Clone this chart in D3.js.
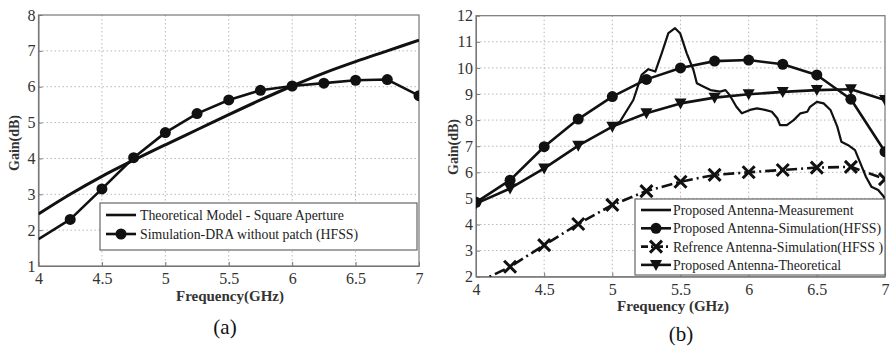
<!DOCTYPE html>
<html>
<head>
<meta charset="utf-8">
<script src="https://cdn.jsdelivr.net/npm/d3@7"></script>
<style>
  body { margin: 0; background: #fff; }
  svg { display: block; font-family: "Liberation Serif", "Times New Roman", serif; }
  .grid line { stroke: #b8b8b8; stroke-dasharray: 1.5,2.5; }
  .axis path, .axis line { stroke: #777; }
</style>
</head>
<body>
<svg id="chart" width="893" height="349"></svg>
<script>
// ---- panel (a) data ----
const freqA = [4, 4.25, 4.5, 4.75, 5, 5.25, 5.5, 5.75, 6, 6.25, 6.5, 6.75, 7];
const theoryA = [2.45, 3.0, 3.5, 3.95, 4.38, 4.8, 5.22, 5.63, 6.02, 6.38, 6.7, 7.0, 7.3];
const simDraA = [1.75, 2.3, 3.15, 4.02, 4.72, 5.25, 5.63, 5.9, 6.02, 6.1, 6.18, 6.2, 5.75];

// ---- panel (b) data ----
const freqB = [4, 4.25, 4.5, 4.75, 5, 5.25, 5.5, 5.75, 6, 6.25, 6.5, 6.75, 7];
const simPropB = [4.85, 5.7, 6.98, 8.04, 8.9, 9.56, 10.0, 10.26, 10.3, 10.14, 9.73, 8.8, 6.79];
const refSimB = [1.75, 2.38, 3.21, 4.02, 4.75, 5.28, 5.64, 5.9, 6.0, 6.09, 6.18, 6.21, 5.74];
const theoryB = [4.8, 5.38, 6.15, 7.02, 7.75, 8.26, 8.64, 8.86, 8.99, 9.08, 9.15, 9.18, 8.77];
const measFreq = [5.0, 5.056, 5.154, 5.215, 5.264, 5.315, 5.362, 5.411, 5.46, 5.497, 5.546, 5.595,
  5.62, 5.67, 5.72, 5.79, 5.83, 5.86, 5.91, 5.95, 6.01, 6.06, 6.12, 6.17, 6.21, 6.23, 6.28, 6.33,
  6.38, 6.43, 6.45, 6.5, 6.55, 6.6, 6.65, 6.68, 6.73, 6.78, 6.82, 6.86, 6.9, 6.95, 6.99, 7.0];
const measGain = [7.8, 7.94, 8.77, 9.73, 9.95, 9.86, 10.56, 11.33, 11.52, 11.33, 10.56, 9.92,
  9.41, 9.28, 9.15, 9.09, 9.15, 8.96, 8.51, 8.26, 8.39, 8.45, 8.39, 8.32, 8.07, 7.81, 7.81, 8.0,
  8.26, 8.32, 8.51, 8.7, 8.64, 8.39, 7.75, 7.17, 7.04, 6.85, 6.34, 5.83, 5.45, 5.32, 5.07, 4.95];

const xTicks = [4, 4.5, 5, 5.5, 6, 6.5, 7];
const yTicksA = [1, 2, 3, 4, 5, 6, 7, 8];
const yTicksB = [2, 3, 4, 5, 6, 7, 8, 9, 10, 11, 12];

const serif = '"Liberation Serif", "Times New Roman", serif';
const svg = d3.select("#chart");

function styleAxis(sel) {
  sel.attr("font-family", null).attr("font-size", null);
  sel.selectAll("text")
    .style("font-family", serif).style("font-size", "16px").style("fill", "#333");
}

function drawFrame(box, yDomain, yTicks, id) {
  let x = d3.scaleLinear().domain([4, 7]).range([box.left, box.right]);
  let y = d3.scaleLinear().domain(yDomain).range([box.bottom, box.top]);
  let g = svg.append("g");

  // dotted grid
  let grid = g.append("g").classed("grid", true);
  grid.selectAll("line.v").data(xTicks.slice(1, -1)).enter().append("line")
    .attr("x1", d => x(d)).attr("x2", d => x(d))
    .attr("y1", box.top).attr("y2", box.bottom);
  grid.selectAll("line.h").data(yTicks.slice(1, -1)).enter().append("line")
    .attr("x1", box.left).attr("x2", box.right)
    .attr("y1", d => y(d)).attr("y2", d => y(d));

  // axes with inward ticks
  g.append("g").classed("axis", true)
    .attr("transform", "translate(0," + box.bottom + ")")
    .call(d3.axisBottom(x).tickValues(xTicks).tickFormat(d3.format("")).tickSizeInner(-4).tickSizeOuter(0).tickPadding(7))
    .call(styleAxis);
  g.append("g").classed("axis", true)
    .attr("transform", "translate(" + box.left + ",0)")
    .call(d3.axisLeft(y).tickValues(yTicks).tickFormat(d3.format("")).tickSizeInner(-4).tickSizeOuter(0).tickPadding(3))
    .call(styleAxis);

  // frame box
  g.append("rect")
    .attr("x", box.left).attr("y", box.top)
    .attr("width", box.right - box.left).attr("height", box.bottom - box.top)
    .attr("fill", "none").attr("stroke", "#777").attr("stroke-width", 1.2);

  svg.append("clipPath").attr("id", id)
    .append("rect").attr("x", box.left).attr("y", box.top)
    .attr("width", box.right - box.left).attr("height", box.bottom - box.top);

  return {x: x, y: y, g: g};
}

function series(p, xs, ys, clip, opts) {
  let pts = xs.map((f, i) => [f, ys[i]]);
  let line = d3.line().x(d => p.x(d[0])).y(d => p.y(d[1]));
  if (opts.curve) line.curve(opts.curve);
  let layer = p.g.append("g").attr("clip-path", "url(#" + clip + ")");
  layer.append("path").datum(pts)
    .attr("d", line).attr("fill", "none").attr("stroke", "#111")
    .attr("stroke-width", opts.width || 2.6)
    .attr("stroke-dasharray", opts.dash || null)
    .attr("stroke-linejoin", "round");
  let mpts = opts.skipFirst ? pts.slice(1) : pts;
  if (opts.marker) drawMarkers(layer, mpts.map(d => [p.x(d[0]), p.y(d[1])]), opts.marker);
}

function drawMarkers(layer, xy, kind) {
  if (kind === "circle") {
    layer.selectAll(null).data(xy).enter().append("circle")
      .attr("cx", d => d[0]).attr("cy", d => d[1]).attr("r", 5.5).attr("fill", "#111");
  } else if (kind === "tri") {
    layer.selectAll(null).data(xy).enter().append("path")
      .attr("d", d => "M" + (d[0] - 6) + "," + (d[1] - 5) + "L" + (d[0] + 6) + "," + (d[1] - 5) + "L" + d[0] + "," + (d[1] + 6) + "Z")
      .attr("fill", "#111");
  } else if (kind === "x") {
    layer.selectAll(null).data(xy).enter().append("path")
      .attr("d", d => "M" + (d[0] - 6) + "," + (d[1] - 6) + "L" + (d[0] + 6) + "," + (d[1] + 6) + "M" + (d[0] + 6) + "," + (d[1] - 6) + "L" + (d[0] - 6) + "," + (d[1] + 6))
      .attr("stroke", "#111").attr("stroke-width", 3);
  }
}

function legend(box, items) {
  let lg = svg.append("g");
  lg.append("rect").attr("x", box.x).attr("y", box.y).attr("width", box.w).attr("height", box.h)
    .attr("fill", "#fff").attr("stroke", "#666").attr("stroke-width", 1.2);
  items.forEach((it, i) => {
    let yy = box.y + box.first + i * box.step;
    lg.append("line").attr("x1", box.x + 6).attr("x2", box.x + 36).attr("y1", yy).attr("y2", yy)
      .attr("stroke", "#111").attr("stroke-width", 2.6).attr("stroke-dasharray", it.dash || null);
    if (it.marker) drawMarkers(lg, [[box.x + 21, yy]], it.marker);
    lg.append("text").attr("x", box.x + box.textX).attr("y", yy + 5)
      .attr("font-size", box.fs).attr("fill", "#222").text(it.label);
  });
}

// ---- panel (a) ----
const pa = drawFrame({left: 38.5, right: 419, top: 15, bottom: 266}, [1, 8], yTicksA, "clipA");
series(pa, freqA, theoryA, "clipA", {curve: d3.curveMonotoneX, width: 3});
series(pa, freqA, simDraA, "clipA", {marker: "circle", skipFirst: true});
legend({x: 100, y: 203, w: 317, h: 47, first: 12, step: 19, textX: 40, fs: 13.8}, [
  {label: "Theoretical Model - Square Aperture"},
  {label: "Simulation-DRA without patch (HFSS)", marker: "circle"}
]);
svg.append("text").attr("x", 230).attr("y", 301).attr("text-anchor", "middle")
  .attr("font-size", 15).attr("font-weight", "bold").attr("fill", "#333").text("Frequency(GHz)");
svg.append("text").attr("transform", "translate(19,143) rotate(-90)").attr("text-anchor", "middle")
  .attr("font-size", 14).attr("font-weight", "bold").attr("fill", "#333").text("Gain(dB)");
svg.append("text").attr("x", 225).attr("y", 334).attr("text-anchor", "middle")
  .attr("font-size", 21).attr("fill", "#111").text("(a)");

// ---- panel (b) ----
const pb = drawFrame({left: 476, right: 885, top: 15.7, bottom: 276.7}, [2, 12], yTicksB, "clipB");
series(pb, measFreq, measGain, "clipB", {width: 2.2});
series(pb, freqB, simPropB, "clipB", {marker: "circle"});
series(pb, freqB, refSimB, "clipB", {marker: "x", dash: "11,4,2,4", skipFirst: true});
series(pb, freqB, theoryB, "clipB", {marker: "tri"});
legend({x: 635, y: 199, w: 250, h: 76, first: 11, step: 18.3, textX: 38, fs: 13.8}, [
  {label: "Proposed Antenna-Measurement"},
  {label: "Proposed Antenna-Simulation(HFSS)", marker: "circle"},
  {label: "Refrence Antenna-Simulation(HFSS )", marker: "x", dash: "7,3,2,3"},
  {label: "Proposed Antenna-Theoretical", marker: "tri"}
]);
svg.append("text").attr("x", 673).attr("y", 311).attr("text-anchor", "middle")
  .attr("font-size", 15).attr("font-weight", "bold").attr("fill", "#333").text("Frequency (GHz)");
svg.append("text").attr("transform", "translate(458,147) rotate(-90)").attr("text-anchor", "middle")
  .attr("font-size", 14).attr("font-weight", "bold").attr("fill", "#333").text("Gain(dB)");
svg.append("text").attr("x", 681).attr("y", 341).attr("text-anchor", "middle")
  .attr("font-size", 21).attr("fill", "#111").text("(b)");
</script>
</body>
</html>
